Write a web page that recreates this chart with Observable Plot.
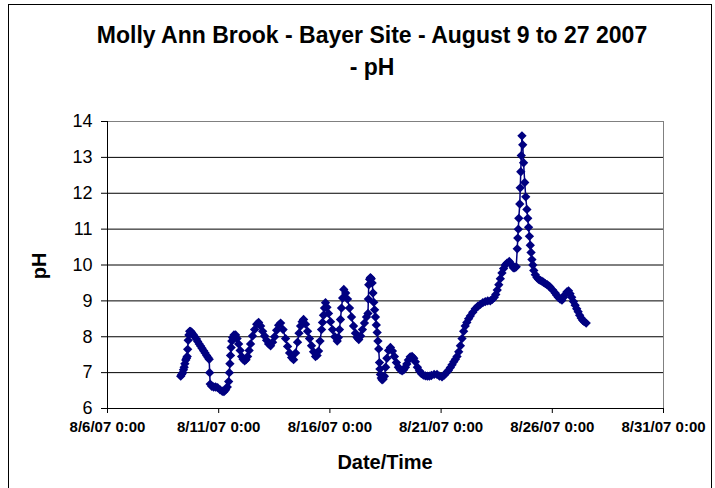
<!DOCTYPE html>
<html>
<head>
<meta charset="utf-8">
<script src="https://cdn.jsdelivr.net/npm/d3@7"></script>
<script src="https://cdn.jsdelivr.net/npm/@observablehq/plot@0.6"></script>
<style>
  body { margin: 0; background: #fff; }
  #wrap { position: relative; width: 715px; height: 488px; overflow: hidden; background: #fff;
          font-family: "Liberation Sans", Arial, sans-serif; color: #000; }
  #frame { position: absolute; left: 8px; top: 4px; width: 704px; height: 520px; border: 1px solid #000; box-sizing: border-box; }
  #chart { position: absolute; left: 0; top: 0; }
  .t { position: absolute; font-weight: bold; line-height: 1; white-space: nowrap; text-align: center; }
  #title1, #title2 { left: 0; width: 744px; font-size: 23px; }
  #title1 { top: 24px; }
  #title2 { top: 56px; }
  #xlabel { left: 0; width: 770px; top: 452px; font-size: 20px; }
  #ylabel { left: 39px; top: 266px; font-size: 20px; transform: translate(-50%, -50%) rotate(-90deg); }
</style>
</head>
<body>
<div id="wrap">
  <div id="frame"></div>
  <div id="chart"></div>
  <div class="t" id="title1"></div>
  <div class="t" id="title2"></div>
  <div class="t" id="xlabel"></div>
  <div class="t" id="ylabel"></div>
</div>
<script>
const titleLine1 = "Molly Ann Brook - Bayer Site - August 9 to 27 2007";
const titleLine2 = "- pH";
const xTitle = "Date/Time";
const yTitle = "pH";

const xTickDates = ["2007-08-06T00:00", "2007-08-11T00:00", "2007-08-16T00:00", "2007-08-21T00:00", "2007-08-26T00:00", "2007-08-31T00:00"];
const xTickLabels = ["8/6/07 0:00", "8/11/07 0:00", "8/16/07 0:00", "8/21/07 0:00", "8/26/07 0:00", "8/31/07 0:00"];
const yTicks = [6, 7, 8, 9, 10, 11, 12, 13, 14];

const times = [
  "08-09 07:00","08-09 08:00","08-09 09:10","08-09 10:00","08-09 10:45","08-09 11:30","08-09 12:25","08-09 13:15","08-09 14:00","08-09 14:30",
  "08-09 15:05","08-09 15:50","08-09 16:40","08-09 17:45","08-09 18:50","08-09 20:30","08-09 22:05",
  "08-10 00:00","08-10 01:20","08-10 03:00","08-10 04:30","08-10 06:00","08-10 07:45","08-10 09:20","08-10 11:00","08-10 12:30","08-10 13:45",
  "08-10 14:15","08-10 14:50","08-10 16:30","08-10 18:35","08-10 20:40","08-10 22:50",
  "08-11 01:30","08-11 03:55","08-11 05:40","08-11 07:30","08-11 09:15","08-11 10:45","08-11 11:30","08-11 12:05","08-11 12:45","08-11 13:25",
  "08-11 14:10","08-11 15:00","08-11 16:30","08-11 18:15","08-11 19:50","08-11 21:30","08-11 23:10",
  "08-12 00:45","08-12 02:20","08-12 04:00","08-12 05:30","08-12 07:10","08-12 08:50","08-12 10:25","08-12 12:30","08-12 14:45","08-12 17:00",
  "08-12 19:05","08-12 21:15","08-12 23:25",
  "08-13 01:30","08-13 03:40","08-13 05:50","08-13 08:00","08-13 10:10","08-13 12:20","08-13 14:30","08-13 16:40","08-13 18:50","08-13 21:30",
  "08-14 00:10","08-14 02:20","08-14 04:30","08-14 06:40","08-14 08:50","08-14 11:00","08-14 13:05","08-14 14:40","08-14 16:20","08-14 18:00",
  "08-14 19:35","08-14 21:45","08-14 23:55",
  "08-15 02:00","08-15 04:10","08-15 06:20","08-15 08:30","08-15 10:10","08-15 11:45","08-15 13:20","08-15 15:00","08-15 16:00","08-15 17:05",
  "08-15 18:10","08-15 19:15","08-15 20:50","08-15 22:30",
  "08-16 00:40","08-16 02:50","08-16 05:20","08-16 07:55","08-16 09:05","08-16 10:20","08-16 11:25","08-16 12:30","08-16 13:45","08-16 15:00",
  "08-16 17:00","08-16 19:00","08-16 21:10","08-16 23:20",
  "08-17 01:30","08-17 03:35","08-17 05:20","08-17 07:10","08-17 09:10","08-17 11:05","08-17 13:15","08-17 15:30","08-17 17:05","08-17 17:30",
  "08-17 17:55","08-17 18:50","08-17 19:45","08-17 20:40","08-17 21:35","08-17 22:30","08-17 23:20",
  "08-18 00:15","08-18 01:10","08-18 02:05","08-18 03:00","08-18 03:50","08-18 04:40","08-18 05:30","08-18 06:00","08-18 06:30","08-18 07:25",
  "08-18 08:20","08-18 09:30","08-18 10:50","08-18 12:10","08-18 13:30","08-18 15:20","08-18 17:20","08-18 19:30","08-18 21:35","08-18 23:45",
  "08-19 01:55","08-19 03:55","08-19 05:55","08-19 07:40","08-19 09:30","08-19 11:00","08-19 12:40","08-19 14:40","08-19 16:40","08-19 18:30",
  "08-19 20:15","08-19 22:25",
  "08-20 00:35","08-20 02:45","08-20 04:55","08-20 07:00","08-20 09:10","08-20 11:20","08-20 13:30","08-20 16:30","08-20 19:35","08-20 22:15",
  "08-21 01:00","08-21 03:20","08-21 05:40","08-21 07:50","08-21 10:00","08-21 11:50","08-21 13:40","08-21 15:25","08-21 17:10","08-21 19:00",
  "08-21 20:50","08-21 22:35",
  "08-22 00:20","08-22 02:00","08-22 03:45","08-22 05:40","08-22 07:30","08-22 10:10","08-22 12:55","08-22 15:40","08-22 18:20","08-22 21:00",
  "08-22 23:40",
  "08-23 02:20","08-23 05:05","08-23 07:15","08-23 09:25","08-23 11:00","08-23 12:35","08-23 14:15","08-23 15:55","08-23 17:40","08-23 19:25",
  "08-23 21:15","08-23 23:05",
  "08-24 01:35","08-24 03:45","08-24 05:55","08-24 07:30","08-24 09:05","08-24 10:10","08-24 10:45","08-24 11:20","08-24 11:50","08-24 12:55",
  "08-24 13:25","08-24 14:00","08-24 14:30","08-24 15:15","08-24 16:05","08-24 17:00","08-24 18:15","08-24 19:20","08-24 20:35","08-24 21:30",
  "08-24 22:25","08-24 23:20",
  "08-25 00:15","08-25 01:05","08-25 02:00","08-25 03:00","08-25 04:00","08-25 05:40","08-25 07:25","08-25 09:10","08-25 11:00","08-25 12:45",
  "08-25 14:30","08-25 16:30","08-25 18:30","08-25 20:10","08-25 21:45",
  "08-26 00:25","08-26 03:05","08-26 04:45","08-26 06:25","08-26 08:25","08-26 10:25","08-26 12:10","08-26 14:00","08-26 15:45","08-26 17:30",
  "08-26 19:10","08-26 20:55","08-26 22:50",
  "08-27 00:40","08-27 02:20","08-27 03:55","08-27 05:30","08-27 07:10","08-27 08:50","08-27 10:25","08-27 12:35"
];
const phValues = [
  6.90,6.95,7.00,7.08,7.15,7.25,7.35,7.40,7.45,7.65,
  7.90,8.05,8.15,8.15,8.12,8.06,8.00,
  7.94,7.87,7.80,7.74,7.68,7.61,7.55,7.48,7.42,7.37,
  7.00,6.68,6.62,6.60,6.60,6.58,
  6.52,6.48,6.47,6.52,6.60,6.75,7.00,7.25,7.48,7.70,
  7.88,7.98,8.05,8.05,7.95,7.80,7.62,
  7.45,7.37,7.33,7.36,7.45,7.62,7.80,8.02,8.20,8.35,
  8.40,8.30,8.15,
  8.02,7.90,7.80,7.75,7.85,8.00,8.18,8.32,8.38,8.20,
  7.95,7.73,7.55,7.42,7.36,7.55,7.85,8.10,8.30,8.42,
  8.48,8.35,8.15,
  7.95,7.75,7.58,7.45,7.48,7.60,7.88,8.20,8.40,8.60,
  8.80,8.95,8.82,8.65,
  8.42,8.20,8.00,7.88,7.98,8.20,8.48,8.80,9.08,9.32,
  9.22,9.05,8.80,8.55,
  8.30,8.10,7.98,7.92,8.02,8.20,8.38,8.55,8.65,9.05,
  9.45,9.60,9.65,9.62,9.50,9.22,8.96,
  8.75,8.55,8.33,8.12,7.88,7.66,7.28,7.10,6.95,6.85,
  6.80,6.82,6.90,7.15,7.40,7.62,7.70,7.60,7.45,7.28,
  7.15,7.08,7.05,7.08,7.15,7.24,7.35,7.44,7.45,7.40,
  7.30,7.15,
  7.05,6.97,6.93,6.91,6.90,6.90,6.92,6.95,6.95,6.90,
  6.88,6.93,7.00,7.06,7.14,7.22,7.30,7.37,7.45,7.58,
  7.75,7.95,
  8.15,8.30,8.40,8.50,8.58,8.68,8.78,8.85,8.90,8.95,
  8.98,
  9.00,9.00,9.04,9.10,9.18,9.30,9.45,9.62,9.78,9.90,
  10.00,10.05,
  10.10,10.02,9.92,9.92,9.95,10.45,10.75,11.00,11.30,11.70,
  12.15,12.60,13.05,13.60,13.35,12.85,12.30,11.90,11.55,11.30,
  11.05,10.80,
  10.55,10.35,10.15,10.00,9.85,9.73,9.65,9.60,9.57,9.55,
  9.52,9.48,9.45,9.42,9.38,
  9.30,9.22,9.16,9.10,9.05,9.02,9.10,9.18,9.25,9.28,
  9.20,9.10,8.98,
  8.88,8.78,8.70,8.60,8.52,8.46,8.42,8.38
];

const parseT = s => new Date("2007-" + s.replace(" ", "T") + ":00Z");
const data = times.map((t, i) => ({date: parseT(t), ph: phValues[i]}));
const xTicks = xTickDates.map(s => new Date(s + ":00Z"));
const navy = "#000080";
const font = "'Liberation Sans', Arial, sans-serif";

const chart = Plot.plot({
  width: 715,
  height: 488,
  marginLeft: 107,
  marginRight: 52,
  marginTop: 121,
  marginBottom: 80,
  style: {fontFamily: font, background: "transparent", color: "#000"},
  x: {type: "utc", domain: [xTicks[0], xTicks[xTicks.length - 1]]},
  y: {domain: [6, 14]},
  marks: [
    Plot.gridY(yTicks.filter(v => v > 6 && v < 14), {stroke: "#000", strokeOpacity: 1, strokeWidth: 1}),
    Plot.frame({stroke: "#808080", strokeWidth: 1}),
    Plot.ruleY([6], {stroke: "#000"}),
    Plot.ruleX([xTicks[0]], {stroke: "#000"}),
    Plot.axisY({ticks: yTicks, tickSize: 6, tickPadding: 9, fontSize: 18, label: null, stroke: "#000"}),
    Plot.axisX({ticks: xTicks, tickSize: 5, tickPadding: 8, fontSize: 15, fontWeight: "bold", label: null,
      tickFormat: d => xTickLabels[xTicks.findIndex(t => +t === +d)]}),
    Plot.line(data, {x: "date", y: "ph", stroke: navy, strokeWidth: 1.5}),
    Plot.dot(data, {x: "date", y: "ph", symbol: "diamond2", r: 4.2, fill: navy, stroke: "none"})
  ]
});
document.getElementById("chart").appendChild(chart);
document.getElementById("title1").textContent = titleLine1;
document.getElementById("title2").textContent = titleLine2;
document.getElementById("xlabel").textContent = xTitle;
document.getElementById("ylabel").textContent = yTitle;
</script>
</body>
</html>
